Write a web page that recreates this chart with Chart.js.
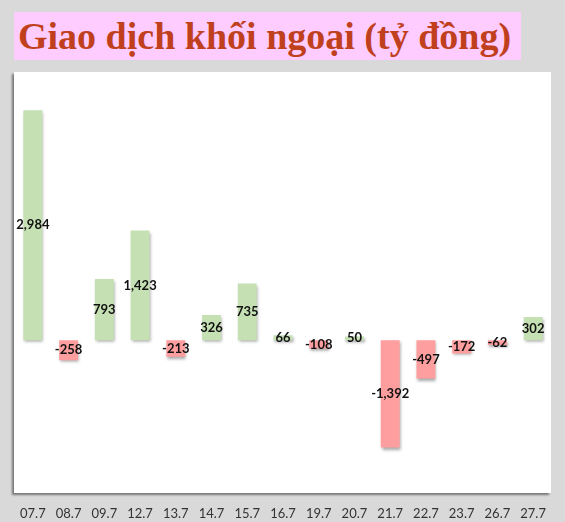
<!DOCTYPE html>
<html>
<head>
<meta charset="utf-8">
<script src="https://cdn.jsdelivr.net/npm/chart.js@4.4.1/dist/chart.umd.min.js"></script>
<style>
  html, body { margin: 0; padding: 0; }
  body { width: 565px; height: 522px; background: #d9d9d9; position: relative; overflow: hidden; font-family: Lato, sans-serif; }
  #title {
    position: absolute; left: 14px; top: 12px; width: 507px; height: 48px;
    background: #ffccff; color: #c0401e;
    font: bold 38px "Liberation Serif", "Times New Roman", serif;
    line-height: 48px; padding-left: 4px; box-sizing: border-box; white-space: nowrap;
  }
  #panel {
    position: absolute; left: 14px; top: 72px; width: 537px; height: 421px;
    background: #fff; box-shadow: -2px 2px 2px rgba(0,0,0,0.45);
  }
  #wrap { position: absolute; left: 0; top: 72px; width: 565px; height: 454px; }
</style>
</head>
<body>
<div id="title">Giao dịch khối ngoại (tỷ đồng)</div>
<div id="panel"></div>
<div id="wrap"><canvas id="c"></canvas></div>
<script>
// ============ DATA ============
const days = ['07.7','08.7','09.7','12.7','13.7','14.7','15.7','16.7','19.7','20.7','21.7','22.7','23.7','26.7','27.7'];
const netBuy = [2984, -258, 793, 1423, -213, 326, 735, 66, -108, 50, -1392, -497, -172, -62, 302];

const GREEN = '#c5e0b3';
const RED = '#ff9e9e';

// bar shadow like the excel original
const shadowPlugin = {
  id: 'barShadow',
  beforeDatasetsDraw(chart) {
    const ctx = chart.ctx;
    ctx.save();
    ctx.shadowColor = 'rgba(0,0,0,0.35)';
    ctx.shadowBlur = 3;
    ctx.shadowOffsetX = 1;
    ctx.shadowOffsetY = 2;
  },
  afterDatasetsDraw(chart) {
    chart.ctx.restore();
  }
};

// value labels in the middle of each bar
const labelPlugin = {
  id: 'midLabels',
  afterDraw(chart) {
    const ctx = chart.ctx;
    const meta = chart.getDatasetMeta(0);
    ctx.save();
    ctx.font = 'bold 13px Lato, sans-serif';
    ctx.fillStyle = '#111';
    ctx.textAlign = 'center';
    ctx.textBaseline = 'middle';
    meta.data.forEach((bar, i) => {
      const v = netBuy[i];
      ctx.fillText(v.toLocaleString('en-US'), bar.x, (bar.y + bar.base) / 2);
    });
    ctx.restore();
  }
};

new Chart(document.getElementById('c'), {
  type: 'bar',
  data: {
    labels: days,
    datasets: [{
      data: netBuy,
      backgroundColor: netBuy.map(v => v >= 0 ? GREEN : RED),
      borderWidth: 0,
      barPercentage: 0.53,
      categoryPercentage: 1
    }]
  },
  options: {
    responsive: true,
    maintainAspectRatio: false,
    animation: false,
    layout: { padding: { left: 15, right: 14, top: 0, bottom: 0 } },
    plugins: { legend: { display: false }, tooltip: { enabled: false } },
    scales: {
      x: {
        grid: { display: false },
        border: { display: false },
        ticks: { color: '#333', font: { family: 'Lato', size: 13 }, padding: 4, maxRotation: 0 }
      },
      y: {
        min: -2000, max: 3480,
        border: { display: false },
        grid: { drawTicks: false, lineWidth: 1, color: c => c.tick && c.tick.value === 0 ? '#d9d9d9' : 'transparent' },
        ticks: { display: false, stepSize: 500 }
      }
    }
  },
  plugins: [shadowPlugin, labelPlugin]
});
</script>
</body>
</html>
